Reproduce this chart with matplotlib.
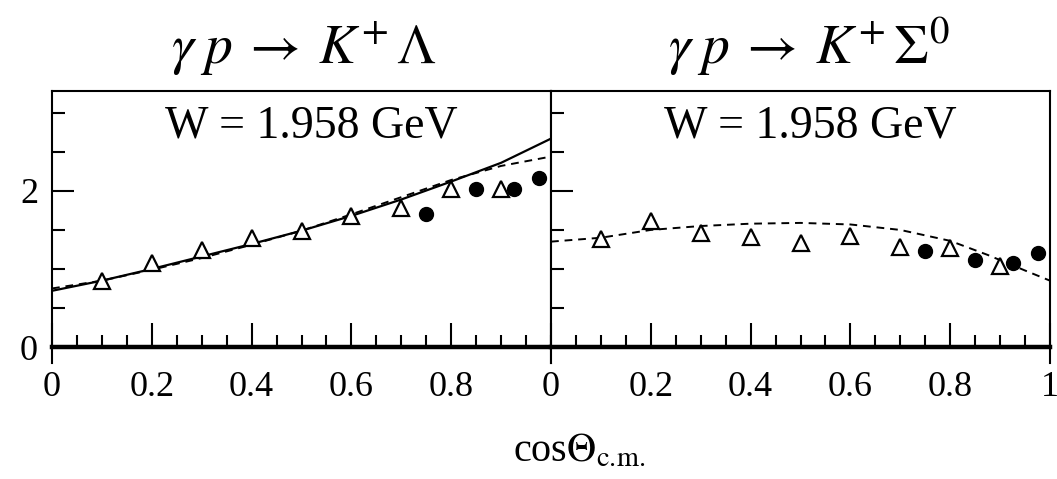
import numpy as np
import matplotlib
matplotlib.use("Agg")
import matplotlib.pyplot as plt
from matplotlib.ticker import MultipleLocator, FixedLocator

plt.rcParams["mathtext.fontset"] = "stix"
plt.rcParams["font.family"] = ["Liberation Serif", "DejaVu Serif"]

# --- gamma p -> K+ Lambda ---------------------------------------------
lam_tri_x = [0.1, 0.2, 0.3, 0.4, 0.5, 0.6, 0.7, 0.8, 0.9]
lam_tri_y = [0.84, 1.07, 1.24, 1.40, 1.48, 1.68, 1.78, 2.03, 2.02]
lam_dot_x = [0.75, 0.85, 0.925, 0.975]
lam_dot_y = [1.71, 2.02, 2.02, 2.16]
lam_curve_x = [0.0, 0.1, 0.2, 0.3, 0.4, 0.5, 0.6, 0.7, 0.8, 0.9, 1.0]
lam_solid_y = [0.72, 0.85, 1.00, 1.16, 1.32, 1.49, 1.68, 1.89, 2.12, 2.36, 2.67]
lam_dash_y = [0.75, 0.85, 0.99, 1.14, 1.31, 1.49, 1.70, 1.92, 2.14, 2.32, 2.44]

# --- gamma p -> K+ Sigma0 ---------------------------------------------
sig_tri_x = [0.1, 0.2, 0.3, 0.4, 0.5, 0.6, 0.7, 0.8, 0.9]
sig_tri_y = [1.38, 1.61, 1.46, 1.41, 1.33, 1.42, 1.28, 1.27, 1.04]
sig_dot_x = [0.75, 0.85, 0.925, 0.975]
sig_dot_y = [1.23, 1.11, 1.08, 1.21]
sig_curve_x = [0.0, 0.1, 0.2, 0.3, 0.4, 0.5, 0.6, 0.7, 0.8, 0.875, 0.95, 1.0]
sig_dash_y = [1.35, 1.40, 1.50, 1.55, 1.58, 1.59, 1.57, 1.50, 1.36, 1.18, 0.98, 0.85]

titles = [r"$\gamma\;p\:\rightarrow\:K^{+}\,\Lambda$",
          r"$\gamma\;p\:\rightarrow\:K^{+}\,\Sigma^{0}$"]
energy_label = "W = 1.958 GeV"
x_label = r"cos$\Theta_{\mathrm{c.\!m.}}$"

W, H = 1057, 479
fig = plt.figure(figsize=(W / 100, H / 100), dpi=100)

ax_l = fig.add_axes([52 / W, 1 - 363 / H, 499 / W, 272 / H])
ax_r = fig.add_axes([551 / W, 1 - 363 / H, 499 / W, 272 / H])

panels = [
    (ax_l, lam_tri_x, lam_tri_y, lam_dot_x, lam_dot_y,
     [(lam_curve_x, lam_solid_y, "-"), (lam_curve_x, lam_dash_y, "--")]),
    (ax_r, sig_tri_x, sig_tri_y, sig_dot_x, sig_dot_y,
     [(sig_curve_x, sig_dash_y, "--")]),
]

for i, (ax, tx, ty, dx, dy, curves) in enumerate(panels):
    for cx, cy, ls in curves:
        if ls == "-":
            ax.plot(cx, cy, color="black", lw=1.6, ls="-", zorder=2)
        else:
            ax.plot(cx, cy, color="black", lw=1.4, ls=(0, (4, 3)), zorder=2)
    ax.plot(tx, ty, ls="none", marker="^", ms=12, mfc="white", mec="black",
            mew=1.6, zorder=3)
    ax.plot(dx, dy, ls="none", marker="o", ms=10, mfc="black", mec="black",
            zorder=4)

    ax.set_xlim(0, 1)
    ax.set_ylim(-0.205, 3.28)
    for s in ("left", "right", "top"):
        ax.spines[s].set_linewidth(1.5)
    ax.spines["bottom"].set_position(("data", 0))
    ax.spines["bottom"].set_linewidth(3.2)

    ax.xaxis.set_major_locator(MultipleLocator(0.2))
    ax.xaxis.set_minor_locator(MultipleLocator(0.05))
    ax.yaxis.set_major_locator(FixedLocator([0, 2]))
    ax.yaxis.set_minor_locator(MultipleLocator(0.5))
    ax.tick_params(axis="both", which="both", direction="in",
                   top=False, right=False, width=1.5, labelsize=26)
    ax.tick_params(axis="x", which="major", length=17, pad=17)
    ax.tick_params(axis="x", which="minor", length=9)
    ax.tick_params(axis="y", which="major", length=16, pad=10)
    ax.tick_params(axis="y", which="minor", length=9)

    ticks = [0, 0.2, 0.4, 0.6, 0.8] if i == 0 else [0, 0.2, 0.4, 0.6, 0.8, 1.0]
    ax.set_xticks(ticks)
    ax.set_xticklabels([f"{t:g}" for t in ticks])
    if i == 0:
        ax.set_yticklabels(["0", "2"])
    else:
        ax.tick_params(axis="y", labelleft=False)

    ax.text(0.52, 0.83, energy_label, transform=ax.transAxes, ha="center",
            va="baseline", fontsize=33)
    ax.text(0.505 + 0.012 * i, 1 + (91 - 64) / 272, titles[i],
            transform=ax.transAxes, ha="center", va="baseline", fontsize=40)

fig.text(513 / W, 1 - 462 / H, x_label, ha="left", va="baseline", fontsize=29)

fig.savefig("out.png", dpi=100)
